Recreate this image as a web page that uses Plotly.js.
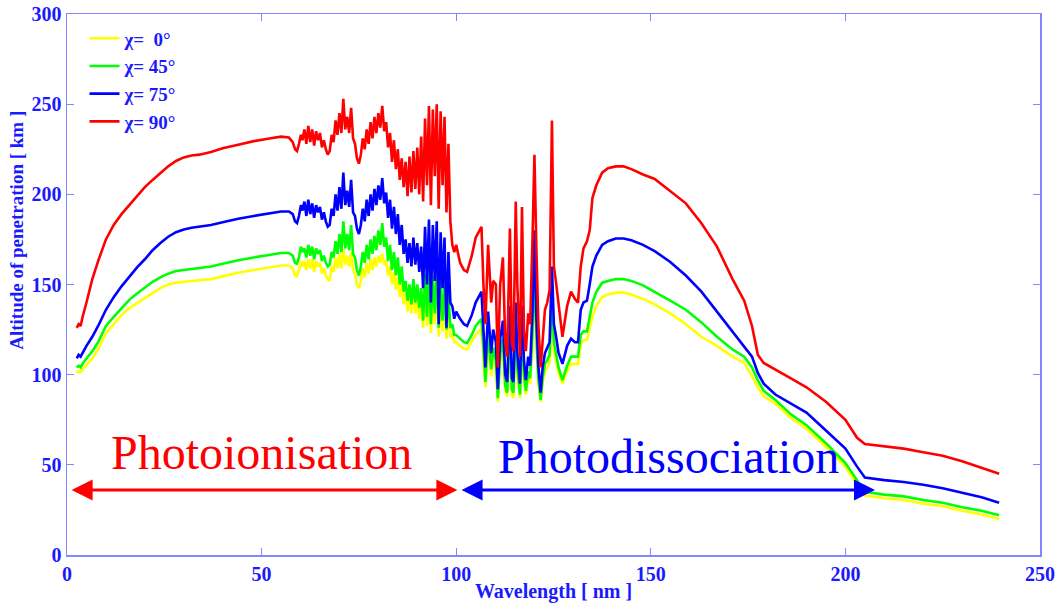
<!DOCTYPE html>
<html>
<head>
<meta charset="utf-8">
<script src="https://cdn.plot.ly/plotly-3.0.1.min.js"></script>
<style>html,body{margin:0;padding:0;background:#fff;}#chart{width:1056px;height:606px;}</style>
</head>
<body>
<div id="chart"></div>
<script>
// Wavelength grid [nm]
const wavelength = [
  2.5,3,3.5,4,5,6.5,8,10,12,14,16,18,20,22,24,26,28,30,32,34,37,40,44,48,52,55,57,58,58.6,59.1,59.6,60.1,60.5,
  61,61.5,62,62.5,63,63.5,64,64.5,65,65.5,66,66.5,67,67.5,68,68.5,69,69.5,70,70.5,71,71.5,72,72.5,73,73.5,74,74.5,75,75.5,76,76.5,77,77.5,78,78.5,79,79.5,80,80.5,
  81,81.5,82,82.5,83,83.5,84,84.5,85,85.5,86,86.5,87,87.5,88,88.5,89,89.5,90,90.5,91,91.5,92,92.5,93,93.5,94,94.5,95,95.5,96,96.5,97,97.5,98,98.5,99,99.5,
  100,101,102,102.8,104,105,106.5,107,107.5,108.2,109,109.5,110.2,110.7,111.3,112,112.6,113.1,113.8,114.3,
  114.7,115.3,115.7,116.4,116.9,117.4,117.9,118.5,119,119.6,120.1,120.6,121.1,121.7,122.2,122.8,123.4,124,124.6,125.1,
  125.6,126.3,127.3,128.5,129.5,130.5,131.3,132,132.7,133.6,134.3,135,136,137.5,139,141,143,145,148,151,
  155,159,163,167,171,174,176,177.5,179,182,186,190,195,200,203,205,210,215,220,225,230,235,239.5
];

// Altitude of penetration [km] for each solar zenith angle
const alt0 = [
  101,102,101.5,103,105.5,109,114,123,128,133,137,139.5,142.5,145.5,148,150,151,151.5,152,152.5,153,154.5,156.5,158,159.5,160.5,160.5,159,155,154.5,158,163,160,
  163,158,164,159,164,157,163,160,162,156,159,155,153,152,160,157,165,159,167,159,170,161,166,160,168,158,156,150,148,152,159,154,162,156,164,158,165,160,166,162,
  167,161,163,155,160,150,157,147,154,143,150,139,145,135,143,134,145,134,143,131,140,126,147,127,148,123,146,128,147,121,144,124,141,120,137,121,122,118,
  118,116,114.5,114,118,122,126,111,93,119,99,110,104,85,107,115,91,88,121,89,
  87,123,100,87,121,97,89,99,95,119,152,117,95,85,95,102,104,107,138,113,
  108,101,95,102,106,106,106,117,119,119.5,126,132,138,143,144.5,145.5,145.5,144.5,142,139,
  134,128,121,116,110,106.5,99,93,88,84,76,70,60,49,39,33,31.5,30.5,28.5,27,24.5,22.5,20
];
const alt45 = [
  104,105,104,106,109,113,118,127,132,137,141.5,145,148.5,151.5,154,156,157.5,158,158.5,159,160,161.5,163.5,165,166.5,167.5,167.5,166,162,161.5,165,171,168,
  170,165,172,166,171,164,170,167,169,163,166,162,160,161,168,165,174,167,178,168,185,170,178,169,183,167,165,158,155,160,168,162,172,164,175,167,177,169,180,172,
  184,171,176,163,172,158,168,155,165,150,160,146,152,141,150,139,153,140,150,137,148,130,156,132,158,128,155,134,157,126,152,130,150,125,145,126,128,122,
  122,120,118,117.5,122,127,131,115,96,124,103,115,108,87,111,120,94,90,126,92,
  90,128,104,89,126,100,91,102,98,124,160,122,98,86,98,106,108,111,145,118,
  112,104,97,105,110,110,110,122,124,124,133,140,146,151,152,153,153,152,149.5,146,
  141,136,129,121,114,110,104,97,91,86,78,72,62,51,41,35,33.5,32.5,30.5,29,26.5,24.5,22
];
const alt75 = [
  109,111,110,112,116,121,127,136,143,149,154.5,159.5,164,169,173,176.5,179,180.5,181.5,182,183,184.5,186.5,188,189.5,190.5,190.5,189,185,184,188,194,191,
  196,188,197,189,195,187,194,190,193,186,190,185,182,183,192,188,200,191,204,192,212,194,202,193,208,190,188,181,178,183,192,185,197,188,200,191,203,194,205,197,
  209,195,201,187,197,181,193,178,189,172,183,167,175,162,173,160,176,161,173,157,171,148,182,150,186,140,183,152,185,128,179,148,176,126,168,140,138,131,
  135,131,128,127,133,140,146,125,104,135,112,125,118,92,120,130,100,96,138,98,
  96,140,112,95,138,108,97,110,105,135,180,132,105,90,104,112,115,118,160,128,
  122,112,106,116,120,118,118,136,140,141,150,160,166,172,174,175.5,175.5,174.5,172,168.5,
  162.5,155,146,135,124,116,110,101,95,89,84,79,69,59,49,43,41.5,40.5,39,37,34.5,32,29
];
const alt90 = [
  126,128,127,132,140,153,163,175,183,189,194,199,204,208,212,215.5,218.5,220.5,221.5,222,223.5,225.5,227.5,229.5,231,232,231.5,229,225,224,228,233,230,
  236,228,238,229,236,227,235,230,234,226,230,225,222,224,233,229,241,233,245,234,253,236,243,234,248,231,228,220,217,222,231,225,236,228,240,231,243,234,245,237,
  249,235,240,226,234,218,230,214,225,208,220,204,218,199,221,201,224,203,226,200,232,196,242,205,249,194,247,210,250,192,246,205,243,190,228,185,172,168,
  172,162,158,157,166,176,182,150,128,172,140,152,150,104,150,165,118,110,181,118,
  113,196,150,110,193,125,113,134,128,175,222,170,128,104,120,136,140,147,241,160,
  152,138,121,138,146,142,140,160,170,174,180,198,205,212,214.5,215.5,215.5,214,211,208.5,
  202,195,184,171,153,141,127,111,106.5,103,98,93,85,75,65,61.5,60.3,59,57,55,52,48.5,45
];

const seriesNames = ['\u03c7=\u00a0\u00a00\u00b0', '\u03c7= 45\u00b0', '\u03c7= 75\u00b0', '\u03c7= 90\u00b0'];
const seriesColors = ['#ffff00', '#00ff00', '#0000ff', '#ff0000'];
const seriesData = [alt0, alt45, alt75, alt90];

const xTicks = [0, 50, 100, 150, 200, 250];
const yTicks = [0, 50, 100, 150, 200, 250, 300];

// Region annotations
const regionLabels = ['Photoionisation', 'Photodissociation'];
const regionLabelX = [50, 154.5];
const regionLabelY = [57, 54.5];
const regionStart = [0.8, 101];
const regionEnd = [100.3, 207.6];
const regionArrowY = 36;
const regionColors = ['#ff0000', '#0000ff'];

const axisColor = '#8585ff';
const textBlue = '#1a1aff';
const serif = '"Liberation Serif", "Times New Roman", serif';

const traces = seriesData.map((ys, i) => ({
  x: wavelength, y: ys, type: 'scatter', mode: 'lines', name: seriesNames[i],
  legendgroup: 'g' + i,
  line: {color: seriesColors[i], width: 2.6}
}));

const annotations = [];
regionLabels.forEach((t, i) => {
  annotations.push({
    x: regionLabelX[i], y: regionLabelY[i], xref: 'x', yref: 'y', text: t, showarrow: false,
    font: {family: serif, size: 48, color: regionColors[i]}
  });
  annotations.push({
    x: regionEnd[i], y: regionArrowY, ax: regionStart[i], ay: regionArrowY,
    xref: 'x', yref: 'y', axref: 'x', ayref: 'y', text: '', showarrow: true,
    arrowhead: 2, startarrowhead: 2, arrowside: 'end+start', arrowwidth: 3, arrowsize: 1.4, startarrowsize: 1.4,
    arrowcolor: regionColors[i]
  });
});
annotations.push({
  xref: 'paper', yref: 'paper', x: -0.052, y: 0.6, text: 'Altitude of penetration [ km ]',
  textangle: -90, showarrow: false, xanchor: 'center', yanchor: 'middle',
  font: {family: serif, size: 19, color: textBlue, weight: 'bold'}
});

const tickFont = {family: serif, size: 20, color: textBlue, weight: 'bold'};

const layout = {
  width: 1056, height: 606,
  margin: {l: 67, r: 16, t: 14, b: 51},
  paper_bgcolor: '#ffffff', plot_bgcolor: '#ffffff',
  showlegend: true,
  legend: {x: 0.018, y: 0.99, xanchor: 'left', yanchor: 'top', bgcolor: 'rgba(0,0,0,0)',
    font: {family: serif, size: 19, color: textBlue, weight: 'bold'}, tracegroupgap: 0, itemwidth: 30},
  xaxis: {range: [0, 250], tickvals: xTicks, ticktext: xTicks.map(String), ticks: 'inside', ticklen: 7,
    tickcolor: axisColor, linecolor: axisColor, linewidth: 1.5, mirror: 'ticks', showline: true,
    showgrid: false, zeroline: false, tickfont: tickFont,
    title: {text: 'Wavelength [ nm ]', font: {family: serif, size: 20, color: textBlue, weight: 'bold'}, standoff: 0}},
  yaxis: {range: [0, 300], tickvals: yTicks, ticktext: yTicks.map(String), ticks: 'inside', ticklen: 7,
    tickcolor: axisColor, linecolor: axisColor, linewidth: 1.5, mirror: 'ticks', showline: true,
    showgrid: false, zeroline: false, tickfont: tickFont},
  annotations: annotations
};

Plotly.newPlot('chart', traces, layout, {displayModeBar: false, staticPlot: true});
</script>
</body>
</html>
